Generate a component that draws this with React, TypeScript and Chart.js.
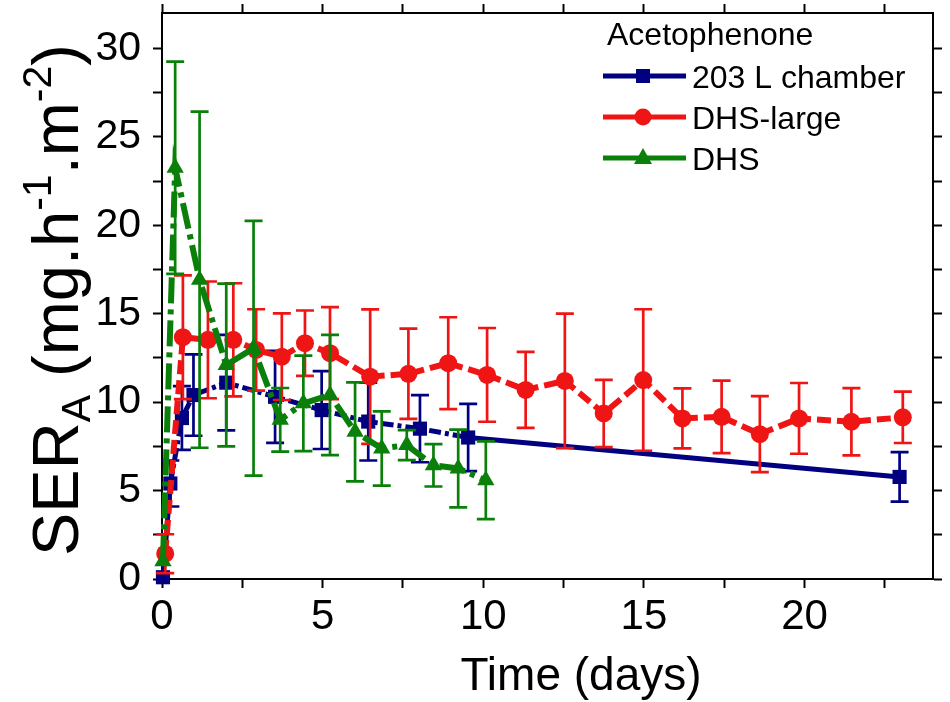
import React, { useEffect, useRef } from 'react';
import { Chart, registerables } from 'chart.js';

Chart.register(...registerables);

// ---- Data ----
const chamberX = [0.03, 0.26, 0.62, 0.98, 2.0, 3.52, 4.97, 6.42, 8.03, 9.53, 22.96];
const chamberY = [0.1, 5.4, 9.1, 10.4, 11.1, 10.3, 9.55, 8.9, 8.5, 8.0, 5.77];
const chamberErr = [0, 1.3, 1.8, 2.3, 2.7, 2.6, 2.2, 2.2, 1.9, 1.9, 1.4];

const dhsLargeX = [0.1, 0.65, 1.43, 2.22, 2.93, 3.73, 4.45, 5.23, 6.48, 7.67, 8.91, 10.12, 11.32, 12.54, 13.75, 14.98, 16.2, 17.42, 18.61, 19.83, 21.46, 23.06];
const dhsLargeY = [1.43, 13.67, 13.52, 13.52, 12.95, 12.57, 13.33, 12.77, 11.44, 11.6, 12.2, 11.54, 10.69, 11.2, 9.36, 11.25, 9.08, 9.17, 8.19, 9.08, 8.89, 9.14];
const dhsLargeErr = [1.1, 3.5, 3.3, 3.2, 2.3, 2.45, 1.85, 2.6, 3.8, 2.55, 2.6, 2.65, 2.15, 3.8, 1.9, 4.0, 1.7, 2.05, 2.15, 2.0, 1.9, 1.45];

const dhsX = [0.03, 0.41, 1.17, 2.0, 2.85, 3.68, 4.4, 5.23, 6.01, 6.84, 7.62, 8.45, 9.22, 10.08];
const dhsY = [1.0, 23.25, 16.92, 12.1, 13.05, 9.0, 9.93, 10.4, 8.32, 7.38, 7.57, 6.43, 6.25, 5.58];
const dhsErr = [0, 6.0, 9.5, 4.6, 7.2, 1.8, 2.7, 3.4, 2.8, 2.1, 0.85, 1.2, 2.2, 2.2];

const seriesNames = ['203 L chamber', 'DHS-large', 'DHS'];
const legendTitle = 'Acetophenone';
const xTitle = 'Time (days)';
const xRange = [0, 24];
const yRange = [0, 32];
const tickStep = 2.5;
const labelStep = 5;

const BLUE = '#000080';
const RED = '#f01515';
const GREEN = '#0a800a';
const FONT = "'Liberation Sans', Arial, Helvetica, sans-serif";

const toPoints = (xs: number[], ys: number[]) => xs.map((x, i) => ({ x, y: ys[i] }));

const errorBarPlugin = {
  id: 'errorBars',
  beforeDatasetDraw(chart: any, args: any) {
    const ds = chart.data.datasets[args.index];
    const errs: number[] = ds.errors || [];
    const yScale = chart.scales.y;
    const ctx = chart.ctx;
    ctx.save();
    ctx.strokeStyle = ds.borderColor;
    ctx.lineWidth = 2.7;
    ctx.setLineDash([]);
    args.meta.data.forEach((pt: any, i: number) => {
      const e = errs[i];
      if (!e) return;
      const v = ds.data[i].y;
      const top = yScale.getPixelForValue(v + e);
      const bot = yScale.getPixelForValue(v - e);
      const x = pt.x;
      ctx.beginPath();
      ctx.moveTo(x, top);
      ctx.lineTo(x, bot);
      ctx.moveTo(x - 9, top);
      ctx.lineTo(x + 9, top);
      ctx.moveTo(x - 9, bot);
      ctx.lineTo(x + 9, bot);
      ctx.stroke();
    });
    ctx.restore();
  },
};

function drawMarker(ctx: CanvasRenderingContext2D, style: string, x: number, y: number, color: string) {
  ctx.fillStyle = color;
  ctx.beginPath();
  if (style === 'rect') {
    ctx.rect(x - 7, y - 7, 14, 14);
  } else if (style === 'circle') {
    ctx.arc(x, y, 8.5, 0, Math.PI * 2);
  } else {
    ctx.moveTo(x, y - 10);
    ctx.lineTo(x + 9, y + 6);
    ctx.lineTo(x - 9, y + 6);
    ctx.closePath();
  }
  ctx.fill();
}

const annotationPlugin = {
  id: 'annotations',
  afterDraw(chart: any) {
    const ctx: CanvasRenderingContext2D = chart.ctx;
    ctx.save();
    ctx.fillStyle = '#000';
    ctx.textBaseline = 'alphabetic';

    // Legend
    ctx.font = `32px ${FONT}`;
    ctx.textAlign = 'left';
    ctx.fillText(legendTitle, 607, 45);
    const colors = [BLUE, RED, GREEN];
    const styles = ['rect', 'circle', 'triangle'];
    const baselines = [88, 129, 170];
    seriesNames.forEach((name, i) => {
      const cy = baselines[i] - 12;
      ctx.strokeStyle = colors[i];
      ctx.lineWidth = 5;
      ctx.beginPath();
      ctx.moveTo(603, cy);
      ctx.lineTo(686, cy);
      ctx.stroke();
      drawMarker(ctx, styles[i], 643, cy, colors[i]);
      ctx.fillStyle = '#000';
      ctx.font = `32px ${FONT}`;
      ctx.fillText(name, 692, baselines[i]);
    });

    // X title
    ctx.font = `46px ${FONT}`;
    ctx.textAlign = 'center';
    ctx.fillText(xTitle, 581, 690);

    // Y title (rotated, with sub/superscripts)
    ctx.translate(78, 556);
    ctx.rotate(-Math.PI / 2);
    ctx.textAlign = 'left';
    const big = 65;
    const small = 41;
    const parts: [string, number, number][] = [
      ['SER', big, 0],
      ['A', small, 12],
      [' (mg.h', big, 0],
      ['-1', small, -27],
      ['.m', big, 0],
      ['-2', small, -27],
      [')', big, 0],
    ];
    let cx = 0;
    for (const [t, size, dy] of parts) {
      ctx.font = `${size}px ${FONT}`;
      ctx.fillText(t, cx, dy);
      cx += ctx.measureText(t).width;
    }
    ctx.restore();
  },
};

const makeTicks = (range: number[]) => (scale: any) => {
  const out: { value: number }[] = [];
  const n = Math.floor((range[1] - range[0]) / tickStep + 1e-9);
  for (let i = 0; i <= n; i++) out.push({ value: range[0] + i * tickStep });
  scale.ticks = out;
};

const labelCb = (v: any) => (Math.abs(v % labelStep) < 1e-6 ? String(v) : '');

const noPad = (s: any) => {
  s.paddingTop = 0;
  s.paddingBottom = 0;
  s.paddingLeft = 0;
  s.paddingRight = 0;
};

export default function App() {
  const ref = useRef<HTMLCanvasElement | null>(null);

  useEffect(() => {
    if (!ref.current) return;
    const lastBlue = chamberX.length - 1;
    const gridCommon = {
      drawOnChartArea: false,
      drawTicks: true,
      tickLength: 9,
      tickWidth: 2,
      tickColor: '#000',
    };
    const borderCommon = { display: true, color: '#000', width: 2 };
    const chart = new Chart(ref.current, {
      type: 'line',
      data: {
        datasets: [
          {
            label: seriesNames[2],
            data: toPoints(dhsX, dhsY),
            errors: dhsErr,
            borderColor: GREEN,
            backgroundColor: GREEN,
            borderWidth: 6,
            borderDash: [26, 6, 5, 6],
            pointStyle: 'triangle',
            pointRadius: 10,
            pointBorderWidth: 0,
            pointBackgroundColor: GREEN,
            order: 0,
            clip: false,
          } as any,
          {
            label: seriesNames[1],
            data: toPoints(dhsLargeX, dhsLargeY),
            errors: dhsLargeErr,
            borderColor: RED,
            backgroundColor: RED,
            borderWidth: 6,
            borderDash: [14, 6],
            pointStyle: 'circle',
            pointRadius: 9,
            pointBorderWidth: 0,
            pointBackgroundColor: RED,
            order: 1,
            clip: false,
          } as any,
          {
            label: seriesNames[0],
            data: toPoints(chamberX, chamberY),
            errors: chamberErr,
            borderColor: BLUE,
            backgroundColor: BLUE,
            borderWidth: 5,
            borderDash: [12, 4, 4, 4],
            segment: {
              borderDash: (c: any) =>
                c.p1DataIndex === lastBlue || c.p0DataIndex === 0 ? [] : [12, 4, 4, 4],
            },
            pointStyle: 'rect',
            pointRadius: 10,
            pointBorderWidth: 0,
            pointBackgroundColor: BLUE,
            order: 2,
            clip: false,
          } as any,
        ],
      },
      options: {
        responsive: false,
        animation: false,
        events: [],
        layout: { padding: { left: 0, right: 7, top: 3, bottom: 0 } },
        plugins: {
          legend: { display: false },
          tooltip: { enabled: false },
          title: { display: false },
        },
        scales: {
          x: {
            type: 'linear',
            position: 'bottom',
            min: xRange[0],
            max: xRange[1],
            ticks: {
              autoSkip: false,
              maxRotation: 0,
              padding: 4,
              color: '#000',
              font: { size: 42, family: FONT },
              callback: labelCb,
            },
            grid: gridCommon,
            border: borderCommon,
            afterBuildTicks: makeTicks(xRange),
            afterFit: (s: any) => { s.height = 123; noPad(s); },
          },
          x2: {
            type: 'linear',
            position: 'top',
            min: xRange[0],
            max: xRange[1],
            ticks: { display: false, autoSkip: false },
            grid: gridCommon,
            border: borderCommon,
            afterBuildTicks: makeTicks(xRange),
            afterFit: (s: any) => { s.height = 10; noPad(s); },
          },
          y: {
            type: 'linear',
            position: 'left',
            min: yRange[0],
            max: yRange[1],
            ticks: {
              autoSkip: false,
              padding: 12,
              color: '#000',
              font: { size: 41, family: FONT },
              callback: labelCb,
            },
            grid: gridCommon,
            border: borderCommon,
            afterBuildTicks: makeTicks(yRange),
            afterFit: (s: any) => { s.width = 162; noPad(s); },
          },
          y2: {
            type: 'linear',
            position: 'right',
            min: yRange[0],
            max: yRange[1],
            ticks: { display: false, autoSkip: false },
            grid: gridCommon,
            border: borderCommon,
            afterBuildTicks: makeTicks(yRange),
            afterFit: (s: any) => { s.width = 10; noPad(s); },
          },
        },
      } as any,
      plugins: [errorBarPlugin, annotationPlugin],
    });
    return () => chart.destroy();
  }, []);

  return (
    <div style={{ position: 'fixed', left: 0, top: 0, width: 950, height: 702, background: '#fff' }}>
      <canvas ref={ref} width={950} height={702} style={{ width: 950, height: 702, display: 'block' }} />
    </div>
  );
}
